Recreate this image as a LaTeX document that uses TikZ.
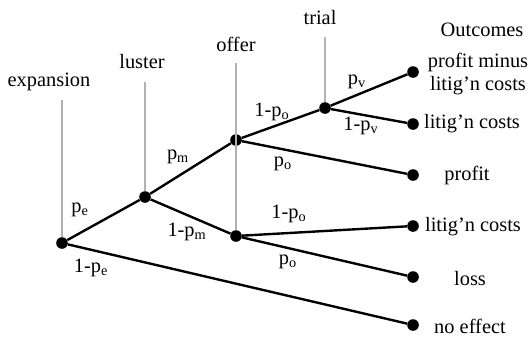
\documentclass[tikz,border=0pt]{standalone}
\usepackage{fontspec}
\setmainfont{Liberation Serif}
\usetikzlibrary{positioning}

\newcommand{\prb}[1]{p\textsubscript{#1}}

\begin{document}
\begin{tikzpicture}[
    x=0.025cm, y=-0.025cm,          % 1 unit = 1 reference pixel
    font=\fontsize{14.5}{17}\selectfont,
    dot/.style={circle, fill=black, inner sep=0pt, minimum size=0.29cm},
    branch/.style={line width=1.7pt},
    stage/.style={draw=black!30, line width=1.1pt},
    prob/.style={inner sep=1pt}
]
    \useasboundingbox (0,0) rectangle (532,336);

    % --- chance nodes ---
    \node [dot] (exp)   at (62,243)  {};
    \node [dot] (lus)   at (145,197) {};
    \node [dot] (offA)  at (236,140) {};
    \node [dot] (offB)  at (236,236) {};
    \node [dot] (tri)   at (325,108) {};

    % --- end points ---
    \node [dot] (endA) at (413,72)  {};
    \node [dot] (endB) at (413,124) {};
    \node [dot] (endC) at (413,175) {};
    \node [dot] (endD) at (413,226) {};
    \node [dot] (endE) at (413,277) {};
    \node [dot] (endF) at (413,325) {};

    % --- stage labels and their gray lines ---
    \node (expL) at (49,82)  {expansion};
    \node (lusL) at (142,62) {luster};
    \node (offL) at (236,44) {offer};
    \node (triL) at (320,18) {trial};
    \coordinate (expTop) at (62,100);
    \coordinate (lusTop) at (145,82);
    \coordinate (offTop) at (236,63);
    \coordinate (triTop) at (325,37);
    \draw [stage] (expTop) -- (exp);
    \draw [stage] (lusTop) -- (lus);
    \draw [stage] (offTop) -- (offB);
    \draw [stage] (triTop) -- (tri);

    % --- branches ---
    \draw [branch] (exp)  -- (lus);
    \draw [branch] (exp)  -- (endF);
    \draw [branch] (lus)  -- (offA);
    \draw [branch] (lus)  -- (offB);
    \draw [branch] (offA) -- (tri);
    \draw [branch] (offA) -- (endC);
    \draw [branch] (tri)  -- (endA);
    \draw [branch] (tri)  -- (endB);
    \draw [branch] (offB) -- (endD);
    \draw [branch] (offB) -- (endE);

    % --- probabilities ---
    \node [prob] (pe)   at (80,210)  {\prb{e}};
    \node [prob] (qe)   at (91,268)  {1-\prb{e}};
    \node [prob] (pm)   at (178,157) {\prb{m}};
    \node [prob] (qm)   at (187,232) {1-\prb{m}};
    \node [prob] (qoA)  at (272,112) {1-\prb{o}};
    \node [prob] (poA)  at (283,164) {\prb{o}};
    \node [prob] (qoB)  at (289,214) {1-\prb{o}};
    \node [prob] (poB)  at (288,262) {\prb{o}};
    \node [prob] (pv)   at (357,82)  {\prb{v}};
    \node [prob] (qv)   at (361,126) {1-\prb{v}};

    % --- outcomes ---
    \node (outL) at (482,30) {Outcomes};
    \node [align=center] (outA) at (478,74) {profit minus\\litig'n costs};
    \node (outB) at (472,124) {litig'n costs};
    \node (outC) at (467,175) {profit};
    \node (outD) at (473,227) {litig'n costs};
    \node (outE) at (470,279) {loss};
    \node (outF) at (470,326) {no effect};

\end{tikzpicture}
\end{document}
